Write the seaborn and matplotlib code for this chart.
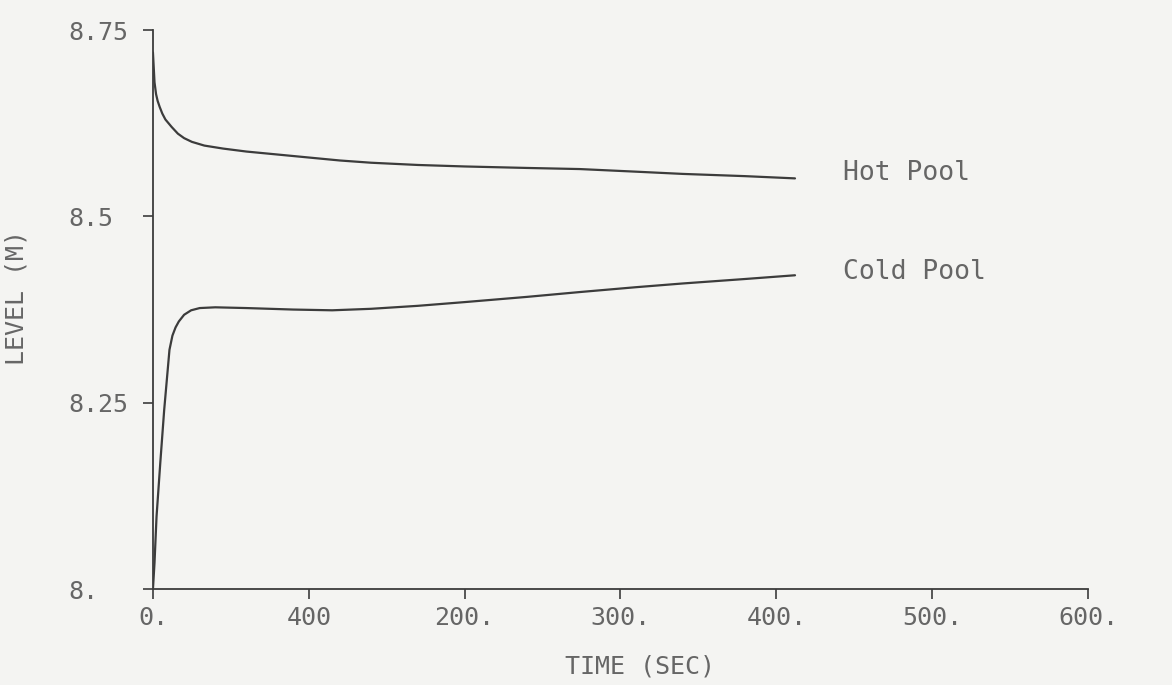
import numpy as np
import pandas as pd
import seaborn as sns
import matplotlib.pyplot as plt

# valeurs (temps en s, niveau en m)
hot_time = [0, 0.5, 1, 2, 3, 4.3, 6, 8, 12, 16, 20, 25, 33, 45, 60, 80, 100,
            120, 140, 170, 200, 240, 274, 310, 340, 380, 412]
hot_level = [8.72, 8.70, 8.68, 8.664, 8.655, 8.647, 8.638, 8.630, 8.620, 8.611,
             8.605, 8.600, 8.595, 8.591, 8.587, 8.583, 8.579, 8.575, 8.572,
             8.569, 8.567, 8.565, 8.5635, 8.560, 8.557, 8.554, 8.551]

cold_time = [0, 1, 2.3, 4.7, 7.2, 10.6, 12.5, 14.5, 16.6, 20, 24.5,
             30, 40, 60, 90, 115, 140, 170, 200, 240, 274, 310, 340, 380, 412]
cold_level = [8.0, 8.035, 8.097, 8.169, 8.240, 8.321, 8.340, 8.351, 8.359,
              8.368, 8.374, 8.377, 8.378, 8.377, 8.375, 8.374, 8.376, 8.380,
              8.385, 8.392, 8.3985, 8.405, 8.410, 8.416, 8.421]

x_ticks = [0, 100, 200, 300, 400, 500, 600]
x_tick_labels = ['0.', '400', '200.', '300.', '400.', '500.', '600.']
y_ticks = [8.0, 8.25, 8.5, 8.75]
y_tick_labels = ['8.', '8.25', '8.5', '8.75']

labels = ['Hot Pool', 'Cold Pool']
label_pos = [(443, 8.558), (443, 8.425)]

bg = '#f4f4f2'
ink = '#666666'
line_col = '#3c3c3c'

sns.set_style('ticks')
plt.rcParams['font.family'] = ['DejaVu Sans Mono', 'DejaVu Sans']

df_hot = pd.DataFrame({'t': hot_time, 'niveau': hot_level})
df_cold = pd.DataFrame({'t': cold_time, 'niveau': cold_level})

fig = plt.figure(figsize=(11.72, 6.85), dpi=100, facecolor=bg)
ax = fig.add_axes([0.1305, 0.1401, 0.7978, 0.816])
ax.set_facecolor(bg)

sns.lineplot(data=df_hot, x='t', y='niveau', ax=ax, color=line_col,
             linewidth=1.6, estimator=None, sort=False)
sns.lineplot(data=df_cold, x='t', y='niveau', ax=ax, color=line_col,
             linewidth=1.6, estimator=None, sort=False)

for txt, (tx, ty) in zip(labels, label_pos):
    ax.text(tx, ty, txt, fontsize=19, color=ink, ha='left', va='center')

ax.set_xlim(0, 600)
ax.set_ylim(8.0, 8.75)
ax.set_xticks(x_ticks)
ax.set_xticklabels(x_tick_labels)
ax.set_yticks(y_ticks)
ax.set_yticklabels(y_tick_labels, ha='left')

sns.despine(ax=ax)
for s in ['left', 'bottom']:
    ax.spines[s].set_color(line_col)
    ax.spines[s].set_linewidth(1.3)

ax.tick_params(axis='x', direction='out', length=7, width=1.2, colors=line_col,
               labelcolor=ink, labelsize=18, pad=5)
ax.tick_params(axis='y', direction='out', length=7, width=1.2, colors=line_col,
               labelcolor=ink, labelsize=18, pad=54)

ax.set_xlabel('TIME (SEC)', fontsize=18, color=ink)
ax.set_ylabel('LEVEL (M)', fontsize=18, color=ink)
ax.xaxis.set_label_coords(0.521, -0.118)
ax.yaxis.set_label_coords(-0.133, 0.522)

fig.savefig('out.png', dpi=100, facecolor=bg)
